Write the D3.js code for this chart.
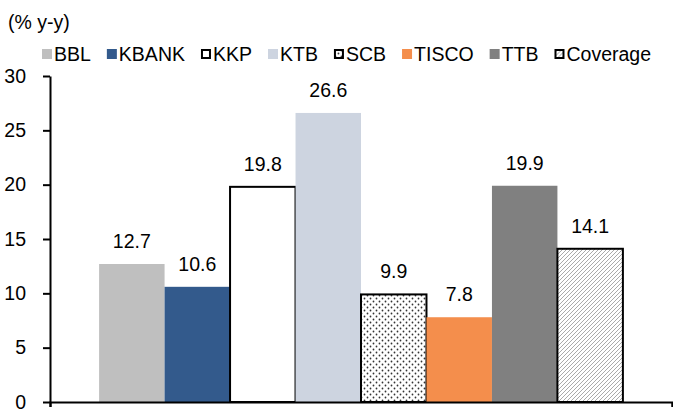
<!DOCTYPE html>
<html>
<head>
<meta charset="utf-8">
<script src="https://cdn.jsdelivr.net/npm/d3@7/dist/d3.min.js"></script>
<style>
  body { margin: 0; background: #fff; }
  text { font-family: "Liberation Sans", Arial, sans-serif; fill: #000; }
</style>
</head>
<body>
<svg id="chart" width="673" height="412"></svg>
<script>
// data
const banks = ["BBL", "KBANK", "KKP", "KTB", "SCB", "TISCO", "TTB", "Coverage"];
const growth = [12.7, 10.6, 19.8, 26.6, 9.9, 7.8, 19.9, 14.1];
const yTicks = [0, 5, 10, 15, 20, 25, 30];
const unitLabel = "(% y-y)";

const fills = {
  BBL: "#bfbfbf", KBANK: "#335a8c", KKP: "#fff", KTB: "#cdd4e0",
  SCB: "url(#dots)", TISCO: "#f48e4c", TTB: "#808080", Coverage: "url(#hatch)"
};
const outlined = new Set(["KKP", "SCB", "Coverage"]);
const fs = "19.5px";

const svg = d3.select("#chart");
const defs = svg.append("defs");

const dots = defs.append("pattern").attr("id", "dots")
  .attr("width", 6).attr("height", 6).attr("patternUnits", "userSpaceOnUse");
dots.append("rect").attr("width", 6).attr("height", 6).attr("fill", "#fff");
dots.append("circle").attr("cx", 1.5).attr("cy", 1.5).attr("r", 0.9).attr("fill", "#333");
dots.append("circle").attr("cx", 4.5).attr("cy", 4.5).attr("r", 0.9).attr("fill", "#333");

const hatch = defs.append("pattern").attr("id", "hatch")
  .attr("width", 4).attr("height", 4).attr("patternUnits", "userSpaceOnUse");
hatch.append("rect").attr("width", 4).attr("height", 4).attr("fill", "#fff");
hatch.append("path").attr("d", "M-1,1 l2,-2 M0,4 l4,-4 M3,5 l2,-2")
  .attr("stroke", "#aaa").attr("stroke-width", 1);

const x = d3.scaleBand().domain(banks).range([50, 672]).paddingInner(0).paddingOuter(0.75);
const y = d3.scaleLinear().domain([0, 30]).range([402, 76]);

// title
svg.append("text").attr("x", 8).attr("y", 29).style("font-size", fs).text(unitLabel);

// legend
const legend = svg.append("g").attr("transform", "translate(42,49)");
let lx = 0;
banks.forEach(b => {
  const g = legend.append("g").attr("transform", `translate(${lx},0)`);
  const o = outlined.has(b);
  g.append("rect").attr("x", o ? 1 : 0).attr("y", o ? 1 : 0)
    .attr("width", o ? 8 : 10).attr("height", o ? 8 : 10)
    .attr("fill", fills[b])
    .attr("stroke", o ? "#000" : "none").attr("stroke-width", 2);
  const t = g.append("text").attr("x", 12).attr("y", 11.5).style("font-size", fs).text(b);
  lx += 12 + t.node().getComputedTextLength() + 16;
});

// bars
svg.append("g").selectAll("rect").data(banks).join("rect")
  .attr("x", d => x(d)).attr("width", x.bandwidth())
  .attr("y", (d, i) => y(growth[i])).attr("height", (d, i) => y(0) - y(growth[i]))
  .attr("fill", d => fills[d])
  .attr("stroke", d => outlined.has(d) ? "#000" : "none").attr("stroke-width", 2);

// value labels
svg.append("g").selectAll("text").data(banks).join("text")
  .attr("x", d => x(d) + x.bandwidth() / 2)
  .attr("y", (d, i) => y(growth[i]) - 16)
  .attr("text-anchor", "middle").style("font-size", fs)
  .text((d, i) => growth[i].toFixed(1));

// y axis
const yAxis = svg.append("g").attr("transform", "translate(50,0)")
  .call(d3.axisLeft(y).tickValues(yTicks).tickSize(7).tickSizeOuter(0).tickPadding(17));
yAxis.select(".domain").attr("stroke", "#000").attr("stroke-width", 2);
yAxis.selectAll(".tick line").attr("stroke", "#000").attr("stroke-width", 2);
yAxis.selectAll(".tick text").style("font-size", fs).style("font-family", "Liberation Sans, Arial, sans-serif");

// x axis
const xAxis = svg.append("g").attr("transform", `translate(0,${y(0)})`)
  .call(d3.axisBottom(d3.scaleLinear().domain([0, 1]).range([50, 672])).tickValues([0, 1]).tickSize(5).tickFormat(""));
xAxis.select(".domain").attr("stroke", "#000").attr("stroke-width", 2);
xAxis.selectAll(".tick line").attr("stroke", "#000").attr("stroke-width", 2);
</script>
</body>
</html>
